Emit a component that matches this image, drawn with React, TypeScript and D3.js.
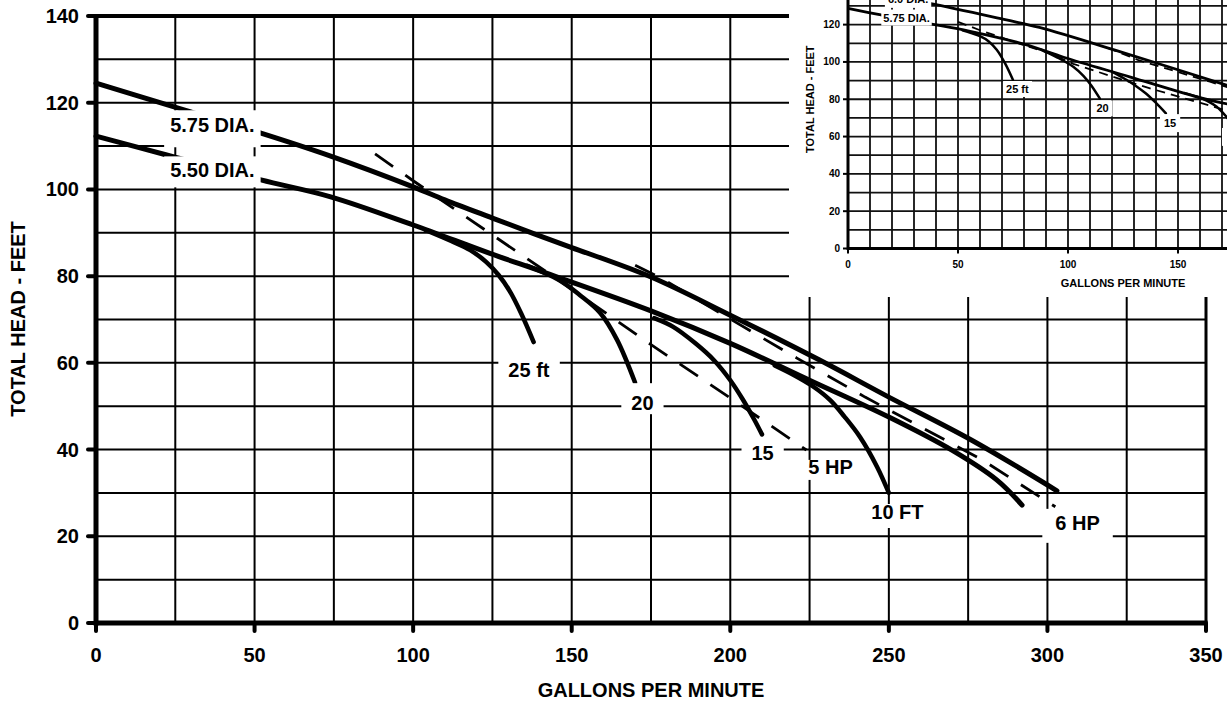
import { useEffect, useRef } from 'react';
import * as d3 from 'd3';

type Pt = [number, number];

// ---- main chart (GPM vs total head, ft) ----
const gpmTicks = [0, 50, 100, 150, 200, 250, 300, 350];
const headTicks = [0, 20, 40, 60, 80, 100, 120, 140];

const dia575: Pt[] = [[0, 124.5], [28, 118.3], [52, 113], [74, 107.7], [100, 100.6], [110, 97.6], [125, 93.4], [138, 89.8], [150, 86.6], [175, 79.8], [200, 71], [228, 60.7], [250, 52.1], [276, 42.2], [303, 30.5]];
const dia550: Pt[] = [[0, 112.3], [22, 108], [52, 102.2], [74, 98.3], [100, 91.8], [124, 85.3], [142, 80.7], [175, 72], [200, 64.5], [225, 56], [250, 47.5], [270, 39.8], [284, 33], [292, 27.2]];

// suction lift branches off the 5.50 curve
const lift25: Pt[] = [[104, 90.6], [112, 88.1], [118, 86], [123, 83.3], [127, 80.2], [130.5, 76.5], [134, 71.5], [138, 64.8]];
const lift20: Pt[] = [[136, 82.4], [146, 79.1], [152.6, 75.6], [159, 71.5], [164.3, 65.3], [170, 55.4]];
const lift15: Pt[] = [[176, 70.3], [182, 68.3], [189, 64.5], [195, 60.5], [200, 56], [204, 51.5], [207.5, 47], [210, 43.5]];
const lift10: Pt[] = [[214, 59.4], [220, 57.2], [226, 54.6], [231.5, 51.4], [236, 47.6], [240.9, 42.9], [246.3, 36], [250, 30]];

// motor limit (dashed)
const hp5: Pt[] = [[88, 108.2], [100, 102], [125, 89.5], [150, 77], [175, 64.2], [200, 51.9], [224, 39.9]];
const hp6: Pt[] = [[170, 82.5], [178, 79.6], [210, 65.8], [221, 61.1], [242.5, 52.1], [279.5, 37.6], [302.5, 26.8]];

const mainLabels = ['5.75 DIA.', '5.50 DIA.', '25 ft', '20', '15', '5 HP', '10 FT', '6 HP'];

// ---- inset chart ----
const insetGpmTicks = [0, 50, 100, 150];
const insetHeadTicks = [0, 20, 40, 60, 80, 100, 120];

const inDia60: Pt[] = [[0, 139], [37, 131.4], [72, 122.5], [87, 118.5], [125, 105], [172, 87.6], [180, 84.5]];
const inDia575: Pt[] = [[0, 128.7], [15, 125.2], [38, 120.3], [55, 116.5], [80, 109.5], [98, 102.5], [128, 92], [158.5, 81.3], [175, 76.8]];
const inLift25: Pt[] = [[52, 117], [56, 115.5], [60, 113.8], [64, 111], [67.6, 106.5], [71.4, 99.2], [75, 90.3]];
const inLift20: Pt[] = [[88, 106.5], [95, 102.5], [102.4, 97.4], [107, 92.5], [110.5, 87.5], [114.5, 80.3]];
const inLift15: Pt[] = [[120, 94.8], [126.7, 90.3], [131, 87], [135.3, 83.2], [140, 78], [144.5, 72.4]];
const inLift10: Pt[] = [[153, 83.3], [158.5, 81.5], [163, 79.3], [167.6, 76], [172, 70.6], [175, 66]];
const inHpA: Pt[] = [[50, 121.5], [60, 117], [70, 113], [80, 109], [92, 104.5], [102.4, 99], [125, 90.3], [137.3, 85.8], [175, 73]];
const inHpB: Pt[] = [[118, 107.5], [132, 101], [164.5, 89.4], [175, 85.5]];

const insetLabels = ['6.0 DIA.', '5.75 DIA.', '25 ft', '20', '15'];

const FONT = '"Liberation Sans", Arial, Helvetica, sans-serif';

export default function App() {
    const svgRef = useRef<SVGSVGElement>(null);

    useEffect(() => {
        if (!svgRef.current) return;
        const svg = d3.select(svgRef.current);
        svg.selectAll('*').remove();

        svg.append('rect').attr('width', 1227).attr('height', 706).attr('fill', '#fff');

        const x = d3.scaleLinear().domain([0, 350]).range([96, 1206]);
        const y = d3.scaleLinear().domain([0, 140]).range([623, 16]);

        const lineOf = (sx: d3.ScaleLinear<number, number>, sy: d3.ScaleLinear<number, number>) =>
            d3.line<Pt>().x(d => sx(d[0])).y(d => sy(d[1])).curve(d3.curveCatmullRom.alpha(0.5));

        // white box behind a label; pads = [top, right, bottom, left]
        const boxLabel = (g: any, text: string, cx: number, cy: number, size: number, pad: number[]) => {
            const grp = g.append('g');
            const rect = grp.append('rect').attr('fill', '#fff');
            const t = grp.append('text')
                .attr('x', cx).attr('y', cy)
                .attr('text-anchor', 'middle')
                .attr('dominant-baseline', 'central')
                .attr('font-family', FONT)
                .attr('font-weight', 'bold')
                .attr('font-size', size)
                .attr('fill', '#000')
                .text(text);
            const bb = (t.node() as SVGTextElement).getBBox();
            rect.attr('x', bb.x - pad[3]).attr('y', bb.y - pad[0])
                .attr('width', bb.width + pad[1] + pad[3])
                .attr('height', bb.height + pad[0] + pad[2]);
        };

        // --- main grid ---
        const grid = svg.append('g').attr('stroke', '#000').attr('stroke-width', 2);
        d3.range(25, 350, 25).forEach(g => {
            grid.append('line').attr('x1', x(g)).attr('x2', x(g)).attr('y1', y(140)).attr('y2', y(0));
        });
        d3.range(10, 140, 10).forEach(h => {
            grid.append('line').attr('x1', x(0)).attr('x2', x(350)).attr('y1', y(h)).attr('y2', y(h));
        });
        // frame
        svg.append('line').attr('x1', x(350)).attr('x2', x(350)).attr('y1', y(140)).attr('y2', y(0))
            .attr('stroke', '#000').attr('stroke-width', 3);
        svg.append('line').attr('x1', x(0)).attr('x2', x(350)).attr('y1', y(140)).attr('y2', y(140))
            .attr('stroke', '#000').attr('stroke-width', 4);
        svg.append('line').attr('x1', x(0)).attr('x2', x(350) + 1.5).attr('y1', y(0)).attr('y2', y(0))
            .attr('stroke', '#000').attr('stroke-width', 5);
        svg.append('line').attr('x1', x(0)).attr('x2', x(0)).attr('y1', y(140) - 2).attr('y2', y(0) + 2.5)
            .attr('stroke', '#000').attr('stroke-width', 5);

        // ticks
        gpmTicks.forEach(g => {
            svg.append('line').attr('x1', x(g)).attr('x2', x(g)).attr('y1', y(0)).attr('y2', y(0) + 8)
                .attr('stroke', '#000').attr('stroke-width', 4).attr('stroke-linecap', 'round');
            svg.append('text').attr('x', x(g)).attr('y', 655)
                .attr('text-anchor', 'middle').attr('dominant-baseline', 'central')
                .attr('font-family', FONT).attr('font-weight', 'bold').attr('font-size', 20)
                .text(g);
        });
        headTicks.forEach(h => {
            svg.append('line').attr('x1', x(0) - 8).attr('x2', x(0)).attr('y1', y(h)).attr('y2', y(h))
                .attr('stroke', '#000').attr('stroke-width', 4).attr('stroke-linecap', 'round');
            svg.append('text').attr('x', 79).attr('y', y(h))
                .attr('text-anchor', 'end').attr('dominant-baseline', 'central')
                .attr('font-family', FONT).attr('font-weight', 'bold').attr('font-size', 20)
                .text(h);
        });

        svg.append('text').attr('x', 651).attr('y', 690)
            .attr('text-anchor', 'middle').attr('dominant-baseline', 'central')
            .attr('font-family', FONT).attr('font-weight', 'bold').attr('font-size', 20)
            .text('GALLONS PER MINUTE');
        svg.append('text').attr('transform', 'translate(18,319) rotate(-90)')
            .attr('text-anchor', 'middle').attr('dominant-baseline', 'central')
            .attr('font-family', FONT).attr('font-weight', 'bold').attr('font-size', 20)
            .text('TOTAL HEAD - FEET');

        // --- main curves ---
        const ml = lineOf(x, y);
        const curves = svg.append('g').attr('fill', 'none').attr('stroke', '#000');
        [dia575, dia550].forEach(c => {
            curves.append('path').attr('d', ml(c)).attr('stroke-width', 5).attr('stroke-linecap', 'round');
        });
        [lift25, lift20, lift15, lift10].forEach(c => {
            curves.append('path').attr('d', ml(c)).attr('stroke-width', 4.5).attr('stroke-linecap', 'round');
        });
        [hp5, hp6].forEach(c => {
            curves.append('path').attr('d', d3.line<Pt>().x(d => x(d[0])).y(d => y(d[1]))(c))
                .attr('stroke-width', 2.8).attr('stroke-dasharray', '22,15');
        });

        // --- main labels ---
        const mainPos: [number, number, number[]][] = [
            [36.7, 114.8, [4, 6, 11, 6]],
            [36.7, 104.4, [3, 6, 6, 6]],
            [136.5, 58.3, [8, 10, 8, 10]],
            [172.3, 50.7, [9, 10, 0, 10]],
            [210.2, 39.2, [3, 10, 3, 10]],
            [231.6, 36, [-4, 6, 2, 6]],
            [252.7, 25.6, [-3, 10, 5, 10]],
            [309.5, 23.1, [3, 13, 9, 13]],
        ];
        const labelsG = svg.append('g');
        mainLabels.forEach((t, i) => {
            const [g, h, pad] = mainPos[i];
            boxLabel(labelsG, t, x(g), y(h), 20, pad);
        });

        // --- inset ---
        const ix = d3.scaleLinear().domain([0, 250]).range([848, 1398]);
        const iy = d3.scaleLinear().domain([0, 160]).range([248.5, -50]);

        const defs = svg.append('defs');
        defs.append('clipPath').attr('id', 'inset-clip')
            .append('rect').attr('x', 789).attr('y', 0).attr('width', 438).attr('height', 297);

        svg.append('rect').attr('x', 789).attr('y', 0).attr('width', 438).attr('height', 297).attr('fill', '#fff');
        const inset = svg.append('g').attr('clip-path', 'url(#inset-clip)');

        const igrid = inset.append('g').attr('stroke', '#111').attr('stroke-width', 1.8);
        d3.range(10, 251, 10).forEach(g => {
            igrid.append('line').attr('x1', ix(g)).attr('x2', ix(g)).attr('y1', iy(160)).attr('y2', iy(0));
        });
        d3.range(10, 161, 10).forEach(h => {
            igrid.append('line').attr('x1', ix(0)).attr('x2', ix(250)).attr('y1', iy(h)).attr('y2', iy(h));
        });
        inset.append('line').attr('x1', ix(0)).attr('x2', ix(0)).attr('y1', iy(160)).attr('y2', iy(0) + 1.5)
            .attr('stroke', '#000').attr('stroke-width', 3);
        inset.append('line').attr('x1', ix(0)).attr('x2', ix(250)).attr('y1', iy(0)).attr('y2', iy(0))
            .attr('stroke', '#000').attr('stroke-width', 3);

        insetGpmTicks.forEach(g => {
            inset.append('line').attr('x1', ix(g)).attr('x2', ix(g)).attr('y1', iy(0)).attr('y2', iy(0) + 5)
                .attr('stroke', '#000').attr('stroke-width', 2);
            inset.append('text').attr('x', ix(g)).attr('y', 264)
                .attr('text-anchor', 'middle').attr('dominant-baseline', 'central')
                .attr('font-family', FONT).attr('font-weight', 'bold').attr('font-size', 10)
                .text(g);
        });
        insetHeadTicks.forEach(h => {
            inset.append('line').attr('x1', ix(0) - 5).attr('x2', ix(0)).attr('y1', iy(h)).attr('y2', iy(h))
                .attr('stroke', '#000').attr('stroke-width', 2);
            inset.append('text').attr('x', 840).attr('y', iy(h))
                .attr('text-anchor', 'end').attr('dominant-baseline', 'central')
                .attr('font-family', FONT).attr('font-weight', 'bold').attr('font-size', 10)
                .text(h);
        });
        inset.append('text').attr('x', ix(125)).attr('y', 283)
            .attr('text-anchor', 'middle').attr('dominant-baseline', 'central')
            .attr('font-family', FONT).attr('font-weight', 'bold').attr('font-size', 11)
            .text('GALLONS PER MINUTE');
        inset.append('text').attr('transform', `translate(810,${iy(80)}) rotate(-90)`)
            .attr('text-anchor', 'middle').attr('dominant-baseline', 'central')
            .attr('font-family', FONT).attr('font-weight', 'bold').attr('font-size', 11)
            .text('TOTAL HEAD - FEET');

        const il = lineOf(ix, iy);
        const icurves = inset.append('g').attr('fill', 'none').attr('stroke', '#000');
        [inDia60, inDia575].forEach(c => {
            icurves.append('path').attr('d', il(c)).attr('stroke-width', 2.8);
        });
        [inLift25, inLift20, inLift15, inLift10].forEach(c => {
            icurves.append('path').attr('d', il(c)).attr('stroke-width', 2.5).attr('stroke-linecap', 'round');
        });
        [inHpA, inHpB].forEach(c => {
            icurves.append('path').attr('d', d3.line<Pt>().x(d => ix(d[0])).y(d => iy(d[1]))(c))
                .attr('stroke-width', 1.8).attr('stroke-dasharray', '9,6');
        });

        const insetPos: [number, number, number[]][] = [
            [27.3, 133.8, [3, 3, 3, 3]],
            [26.6, 123.8, [2, 2, 2, 2]],
            [77, 85.5, [2, 3, 2, 3]],
            [115.7, 75.1, [2, 4, 2, 4]],
            [146.4, 67.2, [3, 4, 3, 4]],
        ];
        const ilabels = inset.append('g');
        insetLabels.forEach((t, i) => {
            const [g, h, pad] = insetPos[i];
            boxLabel(ilabels, t, ix(g), iy(h), 11, pad);
        });
        // edge of the next label box, its text lies past the crop
        inset.append('rect')
            .attr('x', ix(170)).attr('y', iy(64.6))
            .attr('width', 10).attr('height', iy(55) - iy(64.6))
            .attr('fill', '#fff');
    }, []);

    return (
        <svg
            ref={svgRef}
            width={1227}
            height={706}
            style={{ position: 'absolute', left: 0, top: 0, display: 'block' }}
        />
    );
}
